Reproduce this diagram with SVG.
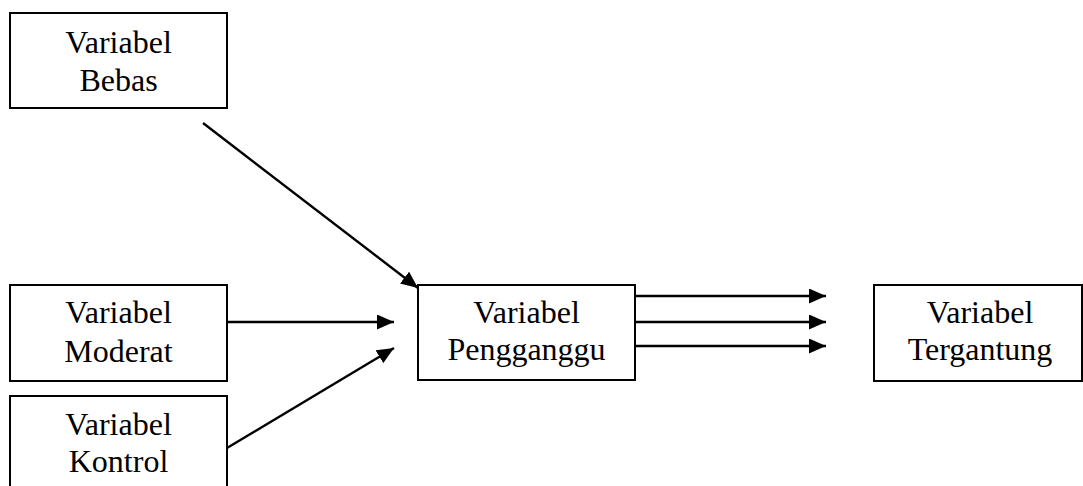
<svg xmlns="http://www.w3.org/2000/svg" width="1083" height="486" viewBox="0 0 1083 486">
<defs>
<marker id="ah" markerUnits="userSpaceOnUse" markerWidth="17" markerHeight="15" refX="17" refY="7.5" orient="auto">
<path d="M0,0 L17,7.5 L0,15 Z" fill="#000"/>
</marker>
<style>
.box{fill:#fff;stroke:#000;stroke-width:2}
.t{font-family:"Liberation Serif","Times New Roman",serif;font-size:32px;fill:#000;text-anchor:middle}
.c{stroke:#000;stroke-width:2.4;fill:none;marker-end:url(#ah)}
</style>
</defs>
<rect width="1083" height="486" fill="#fff"/>
<g id="bebas">
<rect class="box" x="10" y="13" width="217" height="95"/>
<text class="t" x="118.5" y="53">Variabel</text>
<text class="t" x="118.5" y="91">Bebas</text>
</g>
<g id="moderat">
<rect class="box" x="10" y="285" width="217" height="96"/>
<text class="t" x="118.5" y="323">Variabel</text>
<text class="t" x="118.5" y="362">Moderat</text>
</g>
<g id="kontrol">
<rect class="box" x="10" y="396" width="217" height="100"/>
<text class="t" x="118.5" y="435">Variabel</text>
<text class="t" x="118.5" y="472">Kontrol</text>
</g>
<g id="pengganggu">
<rect class="box" x="418" y="285" width="217" height="95"/>
<text class="t" x="526.5" y="323">Variabel</text>
<text class="t" x="526.5" y="360">Pengganggu</text>
</g>
<g id="tergantung">
<rect class="box" x="874" y="285" width="208" height="96"/>
<text class="t" x="980" y="323">Variabel</text>
<text class="t" x="980" y="360">Tergantung</text>
</g>
<g id="connectors">
<line class="c" x1="203" y1="123" x2="418" y2="288"/>
<line class="c" x1="227" y1="322" x2="394" y2="322"/>
<line class="c" x1="227" y1="448" x2="394" y2="348"/>
<line class="c" x1="635" y1="296" x2="826" y2="296"/>
<line class="c" x1="635" y1="322" x2="826" y2="322"/>
<line class="c" x1="635" y1="346" x2="826" y2="346"/>
</g>
</svg>
